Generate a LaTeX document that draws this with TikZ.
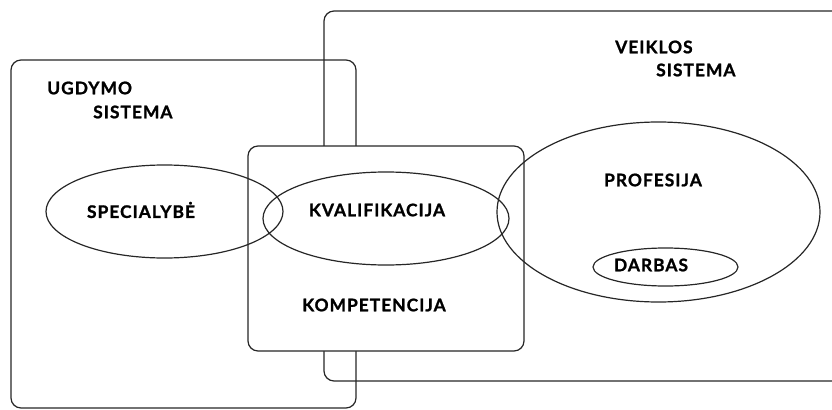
\documentclass[tikz,border=0pt]{standalone}
\usepackage{fontspec}
\setmainfont{Lato}[LetterSpace=6, BoldFeatures={FakeBold=1.2}]
\usetikzlibrary{shapes.geometric,fit}
\tikzset{
  box/.style={draw=black!85, line width=0.9pt, rounded corners=7.5pt, inner sep=0pt},
  oval/.style={draw=black!85, line width=0.9pt, ellipse, inner sep=0pt},
  lbl/.style={font=\bfseries\fontsize{13}{14}\selectfont, inner sep=0pt, text=black}
}
\begin{document}
\begin{tikzpicture}[x=0.75pt,y=-0.75pt]
\useasboundingbox (0,0) rectangle (832,410);
\clip (0,0) rectangle (832,410);
\node[box, fit={(11,60) (356,408)}] (ugd) {};
\node[box, fit={(324,11) (845,381)}] (veik) {};
\node[box, fill=white, fit={(248,146) (524,351)}] (komp) {};
\node[oval, minimum width=237*0.75pt, minimum height=93*0.75pt] (spec) at (164.5,211.5) {};
\node[oval, minimum width=246*0.75pt, minimum height=93*0.75pt] (kval) at (386,218.5) {};
\node[oval, minimum width=323*0.75pt, minimum height=180*0.75pt] (prof) at (658.5,212) {};
\node[oval, minimum width=145*0.75pt, minimum height=38*0.75pt] (darb) at (665.5,267) {};
\node[lbl, anchor=west] (t1) at (47,88) {UGDYMO};
\node[lbl, anchor=west] (t2) at (93,112) {SISTEMA};
\node[lbl, anchor=west] (t3) at (615,47) {VEIKLOS};
\node[lbl, anchor=west] (t4) at (656,70) {SISTEMA};
\node[lbl] (t5) at (141,210) {SPECIALYBĖ};
\node[lbl] (t6) at (377,210) {KVALIFIKACIJA};
\node[lbl] (t7) at (374,305) {KOMPETENCIJA};
\node[lbl] (t8) at (653,180) {PROFESIJA};
\node[lbl] (t9) at (651,265) {DARBAS};
\end{tikzpicture}
\end{document}
